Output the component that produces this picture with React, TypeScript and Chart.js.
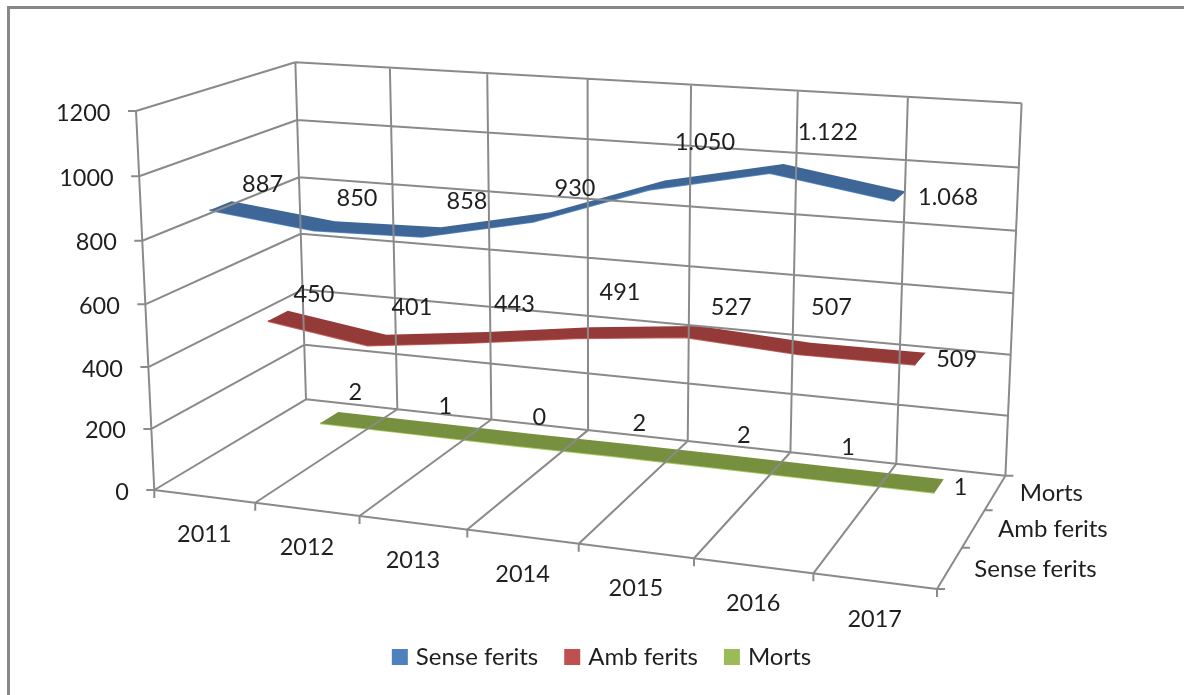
import React, { useEffect, useRef } from "react";
import { Chart, registerables } from "chart.js";

Chart.register(...registerables);

// ---------- data ----------
const categories = ["2011", "2012", "2013", "2014", "2015", "2016", "2017"];
const seriesNames = ["Sense ferits", "Amb ferits", "Morts"];
const senseFerits = [887, 850, 858, 930, 1050, 1122, 1068];
const ambFerits = [450, 401, 443, 491, 527, 507, 509];
const morts = [2, 1, 0, 2, 2, 1, 1];
const senseLabels = ["887", "850", "858", "930", "1.050", "1.122", "1.068"];
const ambLabels = ["450", "401", "443", "491", "527", "507", "509"];
const mortsLabels = ["2", "1", "0", "2", "2", "1", "1"];
const valueTicks = [0, 200, 400, 600, 800, 1000, 1200];

// ---------- layout / style ----------
const W = 1184;
const H = 695;
const PAD_LEFT = 23;
const PLOT_H = 615; // canvas height left above the legend box
const VALUE_MAX = 1200;
const RIBBON_DEPTH = 0.134;
const FONT = "Lato, Carlito, sans-serif";
const TEXT = "#1f1f1f";
const GRID = "#8a8a8a";
const topColors = ["#3E6696", "#943A38", "#77903F"];
const lipColors = ["#5B8FD0", "#C9605C", "#A6CC5E"];
const legendColors = ["#4F81BD", "#C0504D", "#9BBB59"];
const seriesValues = [senseFerits, ambFerits, morts];
const seriesLabels = [senseLabels, ambLabels, mortsLabels];
const labelOffsets: number[][][] = [
  [[42, -21], [32.5, -27], [35.5, -31], [33, -29], [48, -42.5], [51, -36], [48, 1]],
  [[36, -21], [35, -33], [36, -33], [36.5, -40.6], [39, -24], [27, -41], [36, 1]],
  [[26, -25.5], [22, -22], [19, -22.5], [19, -26.5], [20.5, -26], [18.5, -26], [21.5, 1]],
];

// Perspective of the 3D box: u = along categories, v = value, w = depth, each 0..1.
const O = [154.3, 490];
const X = [937, 589];
const Y = [136, 111];
const Z = [306, 399.3];
const G = -0.1115;
const Hh = -0.0393;
const I = 0.13;

function project(u: number, v: number, w: number) {
  const d = 1 + G * u + Hh * v + I * w;
  const f = (k: number) =>
    (O[k] +
      (X[k] * (1 + G) - O[k]) * u +
      (Y[k] * (1 + Hh) - O[k]) * v +
      (Z[k] * (1 + I) - O[k]) * w) /
    d;
  return { x: f(0), y: f(1) };
}

const uMid = (i: number) => (i + 0.5) / categories.length;
const uEdge = (i: number) => i / categories.length;
const vOf = (value: number) => value / VALUE_MAX;
const wMid = (s: number) => (s + 0.5) / seriesNames.length;
const GAP = { x: null as any, y: null as any };

function gridPoints() {
  const pts: any[] = [];
  const seg = (a: any, b: any) => pts.push(a, b, GAP);
  const shift = (p: any, dx: number, dy: number) => ({ x: p.x + dx, y: p.y + dy });
  // value lines on left and back walls + value axis ticks
  valueTicks.forEach((t) => {
    const v = vOf(t);
    seg(project(0, v, 0), project(0, v, 1));
    seg(project(0, v, 1), project(1, v, 1));
    seg(project(0, v, 0), shift(project(0, v, 0), -8, 0));
  });
  seg(project(0, 0, 0), project(0, 1, 0));
  // category lines on back wall and floor + category ticks
  for (let i = 0; i <= categories.length; i++) {
    const u = uEdge(i);
    seg(project(u, 0, 1), project(u, 1, 1));
    seg(project(u, 0, 0), project(u, 0, 1));
    seg(project(u, 0, 0), shift(project(u, 0, 0), 0, 8));
  }
  seg(project(0, 0, 0), project(1, 0, 0));
  // depth ticks
  for (let s = 0; s <= seriesNames.length; s++) {
    const p = project(1, 0, s / seriesNames.length);
    seg(p, shift(p, 8, 0));
  }
  return pts;
}

function ribbonPolygon(s: number) {
  const values = seriesValues[s];
  const back = values.map((val, i) =>
    project(uMid(i), vOf(val), wMid(s) + RIBBON_DEPTH / 2)
  );
  const front = values.map((val, i) =>
    project(uMid(i), vOf(val), wMid(s) - RIBBON_DEPTH / 2)
  );
  return [...back, ...front.reverse()];
}

function ribbonFront(s: number) {
  return seriesValues[s].map((val, i) =>
    project(uMid(i), vOf(val), wMid(s) - RIBBON_DEPTH / 2)
  );
}

// Fills the closed outline through the dataset's own scaled points.
const ribbonPlugin = {
  id: "ribbonFill",
  afterDatasetDraw(chart: any, args: any) {
    const ds = chart.data.datasets[args.index];
    if (!ds.ribbonFill) return;
    const pts = args.meta.data;
    const ctx = chart.ctx;
    ctx.save();
    ctx.beginPath();
    pts.forEach((p: any, i: number) => (i ? ctx.lineTo(p.x, p.y) : ctx.moveTo(p.x, p.y)));
    ctx.closePath();
    ctx.fillStyle = ds.ribbonFill;
    ctx.fill();
    ctx.restore();
  },
};

const textPlugin = {
  id: "axisAndDataText",
  afterDraw(chart: any) {
    const { ctx, scales } = chart;
    const put = (text: string, p: any, dx: number, dy: number, align: CanvasTextAlign) => {
      ctx.textAlign = align;
      ctx.fillText(text, scales.x.getPixelForValue(p.x) + dx, scales.y.getPixelForValue(p.y) + dy);
    };
    ctx.save();
    ctx.fillStyle = TEXT;
    ctx.textBaseline = "middle";
    ctx.font = `23.5px ${FONT}`;
    valueTicks.forEach((t) => put(String(t), project(0, vOf(t), 0), -25.5, 2, "right"));
    categories.forEach((c, i) => put(c, project(uMid(i), 0, 0), 0, 38, "center"));
    seriesValues.forEach((vals, s) =>
      vals.forEach((val, i) => {
        const [dx, dy] = labelOffsets[s][i];
        put(seriesLabels[s][i], project(uMid(i), vOf(val), wMid(s)), dx, dy, "center");
      })
    );
    ctx.font = `24px ${FONT}`;
    seriesNames.forEach((n, s) => put(n, project(1, 0, wMid(s)), 24.5, 1, "left"));
    ctx.restore();
  },
};

export default function App() {
  const ref = useRef<HTMLCanvasElement>(null);

  useEffect(() => {
    if (!ref.current) return;
    const base = { showLine: true, pointRadius: 0, pointHoverRadius: 0, tension: 0, fill: false };
    const ribbons: any[] = [];
    // back to front: Morts, Amb ferits, Sense ferits
    for (let s = seriesNames.length - 1; s >= 0; s--) {
      ribbons.push({
        ...base,
        label: seriesNames[s],
        data: ribbonPolygon(s),
        showLine: false,
        ribbonFill: topColors[s],
      });
      ribbons.push({
        ...base,
        label: seriesNames[s] + " edge",
        data: ribbonFront(s),
        borderColor: lipColors[s],
        borderWidth: 1.8,
      });
    }
    const chart = new Chart(ref.current, {
      type: "scatter",
      data: {
        datasets: [
          {
            ...base,
            label: "grid",
            data: gridPoints(),
            borderColor: GRID,
            borderWidth: 2,
            spanGaps: false,
          } as any,
          ...ribbons,
        ],
      },
      plugins: [ribbonPlugin, textPlugin],
      options: {
        animation: false,
        responsive: false,
        layout: { padding: { left: PAD_LEFT, right: 0, top: 0, bottom: 16 } },
        scales: {
          x: { type: "linear", display: false, min: PAD_LEFT, max: W },
          y: { type: "linear", display: false, min: 0, max: PLOT_H, reverse: true },
        },
        plugins: {
          tooltip: { enabled: false },
          legend: {
            display: true,
            position: "bottom",
            labels: {
              boxWidth: 8,
              boxHeight: 8,
              padding: 30,
              color: TEXT,
              font: { family: FONT, size: 24 },
              generateLabels: () =>
                seriesNames.map((n, i) => ({
                  text: n,
                  fillStyle: legendColors[i],
                  strokeStyle: legendColors[i],
                  lineWidth: 8,
                  datasetIndex: i,
                  fontColor: TEXT,
                })),
            },
          },
        },
      } as any,
    });
    return () => chart.destroy();
  }, []);

  return (
    <div style={{ position: "fixed", left: 0, top: 0, width: W, height: H, background: "#fff", overflow: "hidden" }}>
      <div style={{ position: "absolute", left: 7, top: 6, right: 0, height: 3, background: "#888" }} />
      <div style={{ position: "absolute", left: 7, top: 6, bottom: 0, width: 3, background: "#888" }} />
      <canvas ref={ref} width={W} height={H} style={{ position: "absolute", left: 0, top: 0, display: "block" }} />
    </div>
  );
}
